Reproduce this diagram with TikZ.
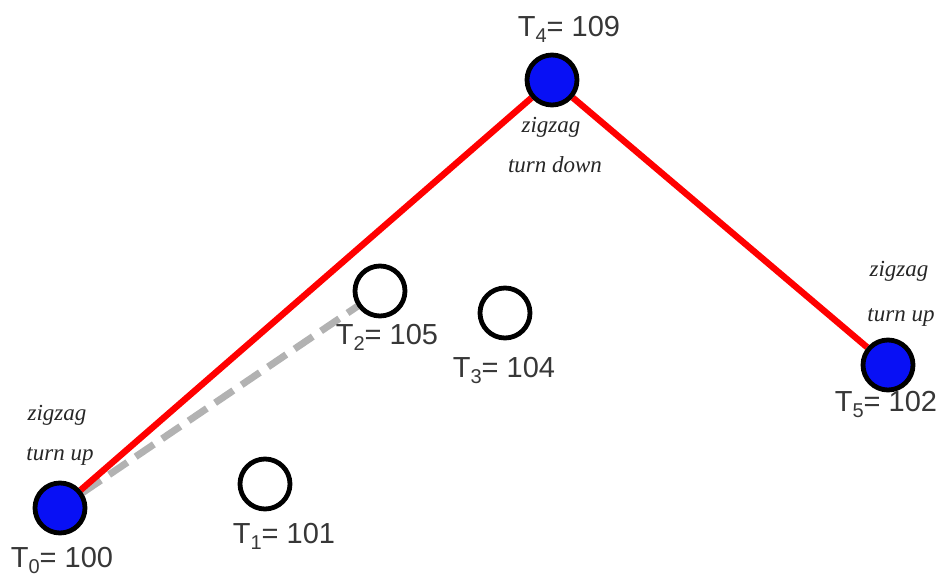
\documentclass[tikz,border=0pt]{standalone}
\usepackage{fontspec}
\setmainfont{Liberation Serif}
\newfontfamily\labelfont{Liberation Sans}
\usetikzlibrary{backgrounds}

\definecolor{pivotblue}{RGB}{8,16,245}
\definecolor{trendred}{RGB}{255,0,0}
\definecolor{skipgray}{RGB}{178,178,178}
\definecolor{labelgray}{RGB}{55,55,55}
\newcommand{\idx}[1]{\raisebox{-0.4ex}{\fontsize{10}{10}\selectfont #1}}

\begin{document}
\begin{tikzpicture}[
    x=0.5pt, y=-0.5pt,
    point/.style={circle, draw=black, line width=2.4pt, minimum size=25pt, inner sep=0pt},
    pivot/.style={point, fill=pivotblue},
    plain/.style={point, fill=white},
    value/.style={font=\labelfont\fontsize{14.5}{16}\selectfont, text=labelgray, inner sep=0pt, anchor=north},
    turn/.style={font=\fontsize{11.5}{13}\selectfont\itshape, text=black!85, inner sep=0pt, anchor=base},
    trend/.style={trendred, line width=3.2pt},
    skip/.style={skipgray, line width=3.5pt, dash pattern=on 11pt off 5pt}
]
\useasboundingbox (0,0) rectangle (940,576);

% points
\node[pivot] (t0) at (60,508) {};
\node[plain] (t1) at (265,484) {};
\node[plain] (t2) at (380,291) {};
\node[plain] (t3) at (505,313) {};
\node[pivot] (t4) at (552,80) {};
\node[pivot] (t5) at (888,365) {};

% values
\node[value] (l0) at (62,547) {T\idx{0}= 100};
\node[value] (l1) at (284,523) {T\idx{1}= 101};
\node[value] (l2) at (387,324) {T\idx{2}= 105};
\node[value] (l3) at (504,357) {T\idx{3}= 104};
\node[value] (l4) at (569,16) {T\idx{4}= 109};
\node[value] (l5) at (886,391) {T\idx{5}= 102};

% zigzag notes
\node[turn] (z0) at (57,420) {zigzag};
\node[turn] (u0) at (60,460) {turn up};
\node[turn] (z4) at (551,133) {zigzag};
\node[turn] (u4) at (555,173) {turn down};
\node[turn] (z5) at (899,277) {zigzag};
\node[turn] (u5) at (901,322) {turn up};

\begin{scope}[on background layer]
\draw[skip] (t0) -- (t2);
\draw[trend] (t0) -- (t4);
\draw[trend] (t4) -- (t5);
\end{scope}
\end{tikzpicture}
\end{document}
